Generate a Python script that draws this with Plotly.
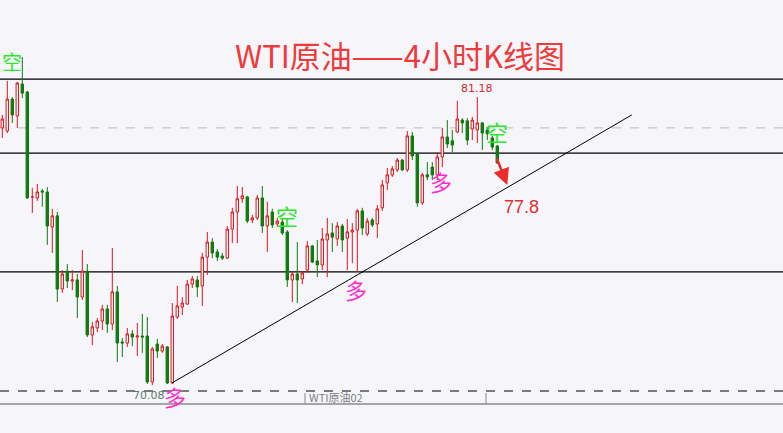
import plotly.graph_objects as go

# ---- data (prices) ----
opens = [79.99, 79.87, 81.10, 80.45, 81.68, 81.37, 77.33, 77.29, 77.56, 77.52,
         76.17, 76.60, 73.78, 74.47, 74.09, 74.13, 73.47, 74.47, 72.01, 72.28,
         72.55, 73.01, 72.43, 73.67, 71.74, 71.70, 72.05, 71.93, 71.97, 71.97,
         70.20, 71.66, 71.39, 71.55, 70.16, 72.70, 73.09, 73.20, 73.97, 74.13,
         73.90, 75.01, 75.59, 75.21, 75.05, 74.97, 76.09, 76.75, 77.26, 77.33,
         76.44, 76.52, 77.29, 76.21, 76.75, 76.29, 76.36, 75.98, 74.13, 74.36,
         74.17, 74.51, 75.44, 74.86, 74.71, 75.67, 75.94, 75.71, 76.21, 75.74,
         75.98, 76.05, 76.79, 75.90, 76.44, 76.29, 76.91, 77.87, 78.18, 78.37,
         78.75, 78.37, 79.68, 78.98, 77.10, 78.18, 78.48, 78.18, 78.87, 79.64,
         79.49, 79.83, 80.29, 80.26, 79.95, 79.91, 80.18, 79.91, 79.60, 79.29]

highs = [80.49, 81.80, 81.18, 81.76, 82.72, 81.41, 77.68, 77.83, 77.64, 77.71,
         76.87, 76.75, 74.51, 74.74, 74.51, 74.36, 75.28, 74.74, 72.51, 72.66,
         73.17, 73.17, 75.36, 73.90, 71.89, 72.28, 72.20, 72.47, 72.82, 72.70,
         71.55, 71.86, 71.66, 71.58, 73.24, 73.90, 73.47, 74.13, 74.28, 74.28,
         75.17, 75.98, 75.74, 75.32, 75.17, 76.21, 76.91, 77.75, 77.71, 77.37,
         76.64, 77.41, 77.75, 77.14, 76.87, 76.52, 76.48, 76.05, 74.44, 75.59,
         74.47, 75.63, 75.48, 75.67, 76.13, 76.52, 76.32, 76.36, 76.29, 76.48,
         76.32, 76.87, 76.91, 76.52, 76.52, 77.02, 77.98, 78.44, 78.52, 78.83,
         78.79, 79.87, 79.83, 79.02, 78.25, 78.67, 78.67, 79.06, 79.99, 80.29,
         79.91, 81.03, 80.37, 80.37, 80.41, 81.18, 80.22, 80.02, 79.68, 79.33]

lows = [79.60, 79.79, 80.18, 79.99, 81.14, 77.26, 76.71, 77.18, 76.95, 75.48,
        75.17, 73.28, 73.63, 73.82, 73.74, 72.66, 73.36, 71.93, 71.62, 72.12,
        72.20, 72.09, 72.20, 70.97, 71.16, 71.55, 71.58, 71.20, 71.32, 70.12,
        70.08, 71.12, 71.32, 70.12, 70.14, 72.63, 72.78, 73.17, 73.82, 73.47,
        73.13, 74.32, 74.97, 74.86, 74.90, 74.94, 75.55, 75.55, 77.10, 76.32,
        76.32, 76.44, 75.94, 75.21, 76.13, 76.17, 75.86, 73.86, 73.28, 73.24,
        73.97, 74.40, 74.78, 74.24, 74.51, 74.24, 75.21, 75.44, 75.21, 74.51,
        74.78, 74.44, 75.86, 75.82, 76.17, 75.74, 76.79, 77.60, 78.10, 78.29,
        78.33, 78.29, 78.75, 76.95, 77.02, 77.98, 77.98, 77.98, 78.48, 79.21,
        79.06, 79.79, 79.79, 79.33, 79.52, 79.41, 79.14, 79.52, 79.14, 78.60]

closes = [80.33, 81.10, 80.49, 81.72, 81.33, 77.29, 77.33, 77.52, 77.52, 76.21,
          76.60, 73.78, 74.36, 74.09, 74.13, 73.47, 74.47, 72.01, 72.32, 72.55,
          73.01, 72.43, 73.67, 71.70, 71.70, 72.05, 71.93, 71.97, 71.93, 70.20,
          71.47, 71.39, 71.58, 70.16, 72.74, 73.13, 73.24, 73.97, 74.17, 73.86,
          75.01, 75.59, 75.17, 75.01, 74.97, 76.09, 76.75, 77.26, 77.37, 76.40,
          76.52, 77.29, 76.21, 76.60, 76.25, 76.40, 75.94, 74.13, 74.36, 74.13,
          74.40, 75.44, 74.82, 74.71, 75.71, 75.90, 75.78, 76.21, 75.67, 75.98,
          76.05, 76.79, 76.13, 76.40, 76.25, 76.87, 77.79, 78.18, 78.41, 78.75,
          78.37, 79.68, 78.91, 77.10, 78.18, 78.10, 78.18, 78.87, 79.64, 79.37,
          79.33, 80.33, 80.18, 79.52, 80.29, 80.18, 79.79, 79.76, 79.25, 78.64]

bars = list(range(1, len(opens) + 1))

level_lines = [81.87, 79.02, 74.44]
current_price = 79.99
trend_start = (34.94, 70.16)
trend_end = (126.9, 80.49)
high_label = "81.18"
low_label = "70.08"
target_label = "77.8"

BG = "#f5f5fa"
RED = "#e0141c"
GREEN = "#0f7a0f"

fig = go.Figure()
fig.add_trace(go.Candlestick(
    x=bars, open=opens, high=highs, low=lows, close=closes,
    increasing=dict(line=dict(color=RED, width=1), fillcolor=BG),
    decreasing=dict(line=dict(color=GREEN, width=1), fillcolor=GREEN),
    whiskerwidth=0, hoverinfo="skip", showlegend=False,
))

shapes = []
for lv in level_lines:
    shapes.append(dict(type="line", xref="paper", x0=0, x1=1, y0=lv, y1=lv,
                       line=dict(color="#000000", width=1.3), layer="below"))
shapes.append(dict(type="line", xref="paper", x0=0, x1=1, y0=current_price, y1=current_price,
                   line=dict(color="#b8b8c0", width=1, dash="dash"), layer="below"))
shapes.append(dict(type="line", x0=trend_start[0], y0=trend_start[1],
                   x1=trend_end[0], y1=trend_end[1],
                   line=dict(color="#000000", width=1)))
# separator between main window and sub-window
shapes.append(dict(type="line", xref="paper", yref="paper", x0=0, x1=1, y0=1 - 391 / 433, y1=1 - 391 / 433,
                   line=dict(color="#000000", width=1, dash="dash")))
shapes.append(dict(type="line", xref="paper", yref="paper", x0=0, x1=1, y0=1 - 404 / 433, y1=1 - 404 / 433,
                   line=dict(color="#8a8a8a", width=1.5)))
for px in (305, 486):
    shapes.append(dict(type="line", xref="paper", yref="paper", x0=px / 783, x1=px / 783,
                       y0=1 - 393 / 433, y1=1 - 404 / 433,
                       line=dict(color="#8a8a8a", width=1)))

CJK = "Noto Sans CJK SC"
ann = []
ann.append(dict(text="WTI原油——4小时K线图", xref="paper", yref="paper", x=400 / 783, y=1 - 55 / 433,
                showarrow=False, font=dict(family=CJK, size=31, color="#ee3a3a"),
                xanchor="center", yanchor="middle"))
ann.append(dict(text=high_label, x=96, y=81.49, showarrow=False,
                font=dict(family="DejaVu Sans", size=11, color="#d42a2a")))
ann.append(dict(text=low_label, x=30.4, y=69.66, showarrow=False,
                font=dict(family="DejaVu Sans", size=11, color="#5f7a6c")))
ann.append(dict(text=target_label, x=104.9, y=76.94, showarrow=False,
                font=dict(family="Liberation Sans", size=18, color="#e03030")))
# mark at the left edge (kept fully inside the picture)
ann.append(dict(text="空", xref="paper", x=0, y=82.53, showarrow=False,
                xanchor="left", font=dict(family=CJK, size=20, color="#2ee62e")))
for (xx, yy) in [(57.9, 76.63), (99.9, 79.87)]:
    ann.append(dict(text="空", x=xx, y=yy, showarrow=False,
                    font=dict(family=CJK, size=22, color="#2ee62e")))
for (xx, yy) in [(88.7, 77.94), (71.7, 73.78), (35.6, 69.66)]:
    ann.append(dict(text="多", x=xx, y=yy, showarrow=False,
                    font=dict(family=CJK, size=22, color="#ff2ccc")))
# red arrow
ann.append(dict(text="", x=102.0, y=77.79, ax=-11, ay=-28, showarrow=True,
                arrowhead=2, arrowsize=1.3, arrowwidth=2.5, arrowcolor="#ee2a2a"))
ann.append(dict(text="WTI原油02", xref="paper", yref="paper", x=307 / 783, y=1 - 397 / 433,
                showarrow=False, xanchor="left", yanchor="middle",
                font=dict(family=CJK, size=11, color="#808080")))

fig.update_layout(
    width=783, height=433,
    margin=dict(l=0, r=0, t=0, b=0),
    paper_bgcolor=BG, plot_bgcolor=BG,
    shapes=shapes, annotations=ann,
    xaxis=dict(range=[0.54, 157.14], visible=False, rangeslider=dict(visible=False),
               showgrid=False, zeroline=False),
    yaxis=dict(range=[68.232, 84.918], visible=False, showgrid=False, zeroline=False),
)

fig.write_html(
    "out.html",
    config={"displayModeBar": False},
    post_script="document.body.style.margin='0';document.body.style.background='%s';"
                "document.body.style.overflow='hidden';" % BG,
)
